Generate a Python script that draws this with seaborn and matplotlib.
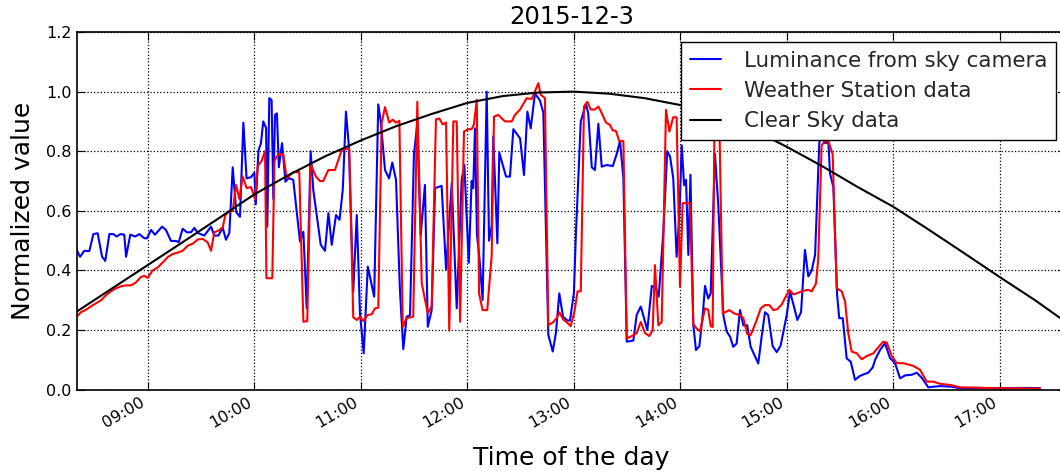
import numpy as np
import pandas as pd
import matplotlib
matplotlib.use("Agg")
import matplotlib.pyplot as plt
import matplotlib.dates as mdates
import seaborn as sns

# ---------------- data (minutes after 08:20, normalized values) ----------------
title_text = "2015-12-3"
labels = ["Luminance from sky camera", "Weather Station data", "Clear Sky data"]

cam_min = [0, 1.9, 4.3, 7.1, 9.4, 11.8, 14.3, 16.1, 18.4, 20.6, 22.5, 24.6, 26.8, 27.8, 30.2, 33.0,
           35.3, 38.1, 39.6, 41.9, 44.1, 48.1, 50.3, 53.1, 55.9, 57.5, 59.7, 62.1, 64.4, 66.3, 68.2,
           71.9, 75.7, 77.5, 79.8, 82.3, 84.1, 86.0, 87.9, 89.9, 92.0, 93.9, 95.7, 98.2, 100.1, 100.9,
           102.4, 103.8, 105.1, 106.7, 107.4, 108.5, 109.8, 110.8, 111.7, 112.8, 113.9, 115.7, 117.6,
           119.6, 122.0, 125.8, 127.7, 129.6, 131.8, 133.3, 135.6, 137.5, 139.9, 141.8, 143.7, 146.1,
           148.1, 149.9, 151.7, 153.3, 155.8, 157.8, 159.6, 161.7, 164.0, 167.6, 169.9, 171.3, 173.7,
           176.0, 177.8, 179.9, 182.1, 184.0, 185.9, 187.8, 190.0, 191.9, 193.8, 196.2, 197.8, 200.0,
           201.9, 205.6, 208.1, 211.3, 214.1, 216.9, 218.4, 220.9, 222.5, 223.4, 224.4, 225.5, 226.8,
           228.7, 231.0, 232.3, 233.8, 234.7, 237.0, 238.1, 241.9, 244.1, 246.0, 249.8, 252.0, 253.9,
           255.8, 258.2, 261.0, 262.9, 265.7, 268.2, 270.0, 271.9, 274.0, 276.5, 277.9, 280.1, 281.3,
           284.0, 286.9, 288.2, 290.2, 292.0, 293.9, 295.8, 298.6, 302.0, 304.2, 306.1, 308.0, 309.9,
           313.6, 315.5, 317.8, 321.5, 324.0, 326.4, 327.9, 330.5, 332.7, 334.3, 336.1, 338.0, 339.5,
           340.9, 342.2, 343.3, 344.6, 345.8, 347.4, 348.9, 350.8, 352.7, 354.0, 355.8, 357.2, 359.6,
           361.5, 364.3, 366.2, 368.1, 369.9, 371.8, 373.7, 375.6, 377.8, 379.7, 382.2, 384.0, 385.9,
           387.8, 389.6, 392.1, 394.4, 396.6, 400.0, 401.9, 404.1, 406.0, 408.1, 410.3, 412.2, 414.1,
           416.0, 418.4, 419.7, 421.6, 423.5, 424.4, 426.3, 428.4, 429.6, 431.6, 433.8, 436.1, 438.5,
           440.9, 443.6, 446.0, 448.5, 449.8, 452.6, 455.4, 458.2, 461.0, 463.9, 466.7, 470.4, 473.3,
           476.1, 479.8, 482.6, 486.4, 493.0, 497.7, 516.2, 535.2, 542.7]
cam_val = [0.469, 0.446, 0.466, 0.465, 0.522, 0.525, 0.446, 0.432, 0.522, 0.522, 0.514, 0.522, 0.520,
           0.446, 0.520, 0.514, 0.522, 0.508, 0.508, 0.536, 0.520, 0.547, 0.536, 0.499, 0.499, 0.495,
           0.540, 0.528, 0.528, 0.543, 0.526, 0.517, 0.547, 0.517, 0.517, 0.543, 0.503, 0.526, 0.746,
           0.595, 0.580, 0.896, 0.709, 0.713, 0.728, 0.622, 0.802, 0.827, 0.900, 0.878, 0.547, 0.978,
           0.972, 0.640, 0.922, 0.927, 0.746, 0.827, 0.698, 0.710, 0.704, 0.497, 0.530, 0.273, 0.800,
           0.670, 0.570, 0.486, 0.466, 0.592, 0.486, 0.586, 0.570, 0.670, 0.933, 0.820, 0.329, 0.586,
           0.256, 0.122, 0.413, 0.312, 0.957, 0.900, 0.737, 0.709, 0.762, 0.704, 0.335, 0.136, 0.245,
           0.250, 0.788, 0.894, 0.519, 0.687, 0.211, 0.267, 0.676, 0.684, 0.404, 0.693, 0.273, 0.704,
           0.754, 0.426, 0.700, 0.676, 0.877, 0.520, 0.449, 0.301, 1.000, 0.500, 0.550, 0.850, 0.491,
           0.795, 0.715, 0.715, 0.874, 0.843, 0.720, 0.933, 0.877, 0.994, 0.970, 0.930, 0.184, 0.128,
           0.191, 0.323, 0.245, 0.232, 0.232, 0.323, 0.530, 0.900, 0.959, 0.927, 0.746, 0.737, 0.892,
           0.748, 0.754, 0.750, 0.790, 0.834, 0.710, 0.161, 0.165, 0.251, 0.279, 0.200, 0.348, 0.340,
           0.312, 0.530, 0.800, 0.782, 0.709, 0.446, 0.580, 0.820, 0.686, 0.704, 0.452, 0.721, 0.217,
           0.133, 0.146, 0.250, 0.348, 0.306, 0.323, 0.791, 0.616, 0.250, 0.195, 0.178, 0.144, 0.155,
           0.267, 0.216, 0.216, 0.144, 0.111, 0.088, 0.178, 0.260, 0.250, 0.146, 0.126, 0.148, 0.250,
           0.329, 0.279, 0.234, 0.260, 0.469, 0.380, 0.400, 0.452, 0.830, 0.850, 0.827, 0.830, 0.726,
           0.680, 0.320, 0.240, 0.240, 0.105, 0.094, 0.033, 0.045, 0.052, 0.057, 0.075, 0.100, 0.133,
           0.156, 0.106, 0.090, 0.038, 0.048, 0.050, 0.057, 0.040, 0.008, 0.010, 0.012, 0.010, 0.005,
           0.005, 0.006, 0.005]

ws_min = [0, 2.4, 5.2, 8.1, 10.9, 13.7, 16.5, 19.3, 22.1, 25.0, 27.8, 30.6, 33.4, 36.2, 38.1, 40.0,
          42.8, 45.6, 48.5, 51.3, 54.1, 56.9, 59.7, 62.5, 65.4, 68.2, 71.0, 73.8, 75.7, 77.5, 80.3,
          82.3, 83.7, 85.6, 87.9, 89.8, 91.6, 93.5, 95.8, 98.2, 100.5, 102.0, 104.2, 106.1, 106.9,
          110.2, 111.4, 113.6, 116.4, 118.3, 120.2, 122.0, 125.4, 127.7, 129.9, 131.8, 134.8, 137.1,
          138.9, 141.8, 145.5, 149.3, 151.2, 153.6, 155.8, 157.8, 159.6, 161.5, 163.7, 166.2, 168.1,
          169.9, 171.8, 173.7, 176.1, 178.0, 179.9, 181.8, 183.7, 185.9, 189.6, 191.9, 194.4, 197.8,
          200.0, 202.4, 204.3, 206.2, 208.1, 209.9, 212.2, 214.1, 216.0, 218.2, 220.6, 222.5, 223.8,
          225.4, 226.7, 228.7, 231.3, 233.8, 235.1, 237.5, 241.3, 245.1, 246.9, 249.8, 253.5, 256.3,
          260.1, 261.4, 263.8, 265.7, 268.2, 270.4, 271.9, 274.2, 276.4, 278.3, 280.5, 282.2, 284.0,
          285.8, 287.7, 289.6, 292.0, 293.9, 295.8, 298.2, 300.5, 302.0, 303.8, 305.7, 308.0, 309.9,
          312.7, 315.5, 317.8, 320.2, 322.6, 324.5, 325.8, 327.7, 329.6, 332.0, 333.9, 336.1, 338.0,
          339.9, 341.4, 345.5, 347.4, 349.3, 351.2, 354.0, 355.8, 357.2, 358.3, 359.3, 360.5, 362.0,
          364.0, 367.7, 370.3, 373.7, 375.6, 377.8, 379.7, 382.7, 385.4, 387.8, 390.2, 392.5, 394.7,
          397.2, 401.5, 403.7, 405.6, 409.4, 412.2, 414.1, 416.5, 417.8, 419.7, 421.6, 423.5, 425.9,
          428.2, 431.0, 432.9, 434.7, 436.6, 439.5, 442.3, 445.1, 448.8, 451.6, 454.4, 456.4, 459.2,
          462.0, 465.7, 471.3, 475.1, 478.9, 482.6, 486.4, 493.0, 497.7, 507.1, 516.2, 535.2, 542.7]
ws_val = [0.245, 0.260, 0.268, 0.280, 0.290, 0.300, 0.317, 0.330, 0.340, 0.347, 0.350, 0.350, 0.360,
          0.378, 0.382, 0.375, 0.400, 0.410, 0.427, 0.445, 0.455, 0.460, 0.466, 0.483, 0.490, 0.504,
          0.506, 0.494, 0.466, 0.528, 0.535, 0.545, 0.585, 0.597, 0.600, 0.687, 0.640, 0.715, 0.676,
          0.680, 0.640, 0.750, 0.768, 0.800, 0.374, 0.374, 0.768, 0.790, 0.790, 0.710, 0.720, 0.730,
          0.730, 0.228, 0.230, 0.757, 0.715, 0.700, 0.700, 0.737, 0.737, 0.804, 0.808, 0.806, 0.243,
          0.234, 0.245, 0.230, 0.250, 0.253, 0.273, 0.275, 0.894, 0.948, 0.896, 0.906, 0.896, 0.902,
          0.211, 0.240, 0.245, 0.966, 0.357, 0.256, 0.280, 0.907, 0.910, 0.890, 0.896, 0.198, 0.900,
          0.900, 0.228, 0.866, 0.874, 0.874, 0.890, 0.972, 0.323, 0.267, 0.267, 0.450, 0.916, 0.922,
          0.900, 0.900, 0.922, 0.940, 0.978, 0.975, 1.028, 0.990, 0.978, 0.217, 0.225, 0.240, 0.260,
          0.235, 0.225, 0.213, 0.265, 0.330, 0.330, 0.950, 0.966, 0.940, 0.940, 0.950, 0.928, 0.896,
          0.888, 0.870, 0.868, 0.834, 0.834, 0.172, 0.180, 0.190, 0.227, 0.190, 0.180, 0.200, 0.418,
          0.216, 0.227, 0.939, 0.866, 0.914, 0.914, 0.345, 0.626, 0.626, 0.220, 0.205, 0.196, 0.273,
          0.268, 0.213, 0.210, 0.900, 0.960, 0.920, 0.256, 0.267, 0.256, 0.250, 0.240, 0.187, 0.183,
          0.227, 0.273, 0.284, 0.284, 0.267, 0.270, 0.286, 0.335, 0.320, 0.323, 0.332, 0.335, 0.330,
          0.356, 0.440, 0.820, 0.834, 0.834, 0.790, 0.340, 0.330, 0.296, 0.190, 0.128, 0.122, 0.102,
          0.113, 0.122, 0.142, 0.161, 0.158, 0.113, 0.089, 0.089, 0.080, 0.067, 0.027, 0.027, 0.020,
          0.015, 0.008, 0.007, 0.005, 0.004, 0.004]

cs_min = [0, 20, 40, 60, 80, 100, 120, 140, 160, 180, 200, 220, 240, 260, 280, 300, 320, 340, 360,
          380, 400, 420, 440, 460, 480, 500, 520, 540, 553, 565]
cs_val = [0.262, 0.340, 0.418, 0.496, 0.575, 0.655, 0.722, 0.783, 0.836, 0.884, 0.925, 0.962, 0.985,
          0.997, 1.000, 0.993, 0.978, 0.955, 0.922, 0.875, 0.815, 0.750, 0.680, 0.614, 0.537, 0.458,
          0.378, 0.300, 0.245, 0.200]

y_ticks = [0.0, 0.2, 0.4, 0.6, 0.8, 1.0, 1.2]

# ---------------- build frames ----------------
base = pd.Timestamp("2015-12-03 08:20:00")
def frame(mins, vals):
    return pd.DataFrame({"time": base + pd.to_timedelta(np.array(mins), unit="min"),
                         "value": vals})

cam = frame(cam_min, cam_val)
ws = frame(ws_min, ws_val)
cs = frame(cs_min, cs_val)

sns.set_theme(style="white")
plt.rcParams["font.family"] = ["DejaVu Sans"]

W, H = 1060, 471
fig = plt.figure(figsize=(W / 100, H / 100), dpi=100)
left, right, top, bottom = 76.7, 1066.4, 32.0, 389.7
ax = fig.add_axes([left / W, 1 - bottom / H, (right - left) / W, (bottom - top) / H])

sns.lineplot(data=cam, x="time", y="value", ax=ax, color="#0000ff", lw=1.5,
             estimator=None, label=labels[0])
sns.lineplot(data=ws, x="time", y="value", ax=ax, color="#ff0000", lw=1.5,
             estimator=None, label=labels[1])
sns.lineplot(data=cs, x="time", y="value", ax=ax, color="black", lw=1.5,
             estimator=None, label=labels[2])

ax.set_xlim(base, base + pd.Timedelta(minutes=557.6))
ax.set_ylim(0, 1.2)
ax.set_yticks(y_ticks)
ax.set_yticklabels([f"{v:.1f}" for v in y_ticks])
ax.xaxis.set_major_locator(mdates.HourLocator())
ax.xaxis.set_major_formatter(mdates.DateFormatter("%H:%M"))

ax.grid(True, color="black", linestyle=":", linewidth=0.9)
for s in ax.spines.values():
    s.set_color("black")
    s.set_linewidth(1.2)
ax.tick_params(direction="in", length=6, width=0.8, color="black",
               top=True, right=True, bottom=True, left=True, labelsize=11.5, labelcolor="black")
for lab in ax.get_xticklabels():
    lab.set_rotation(30)
    lab.set_ha("right")

ax.set_title(title_text, fontsize=17.5, color="black")
ax.set_xlabel("Time of the day", fontsize=18, color="black", labelpad=11)
ax.set_ylabel("Normalized value", fontsize=18, color="black", labelpad=8)

leg = ax.legend(loc="upper right", fontsize=15.4, handlelength=1.45, handletextpad=1.1,
                fancybox=False, framealpha=1, edgecolor="black", borderaxespad=0.47,
                labelspacing=0.48, borderpad=0.4)
leg.get_frame().set_linewidth(1.0)

fig.savefig("out.png", dpi=100)
